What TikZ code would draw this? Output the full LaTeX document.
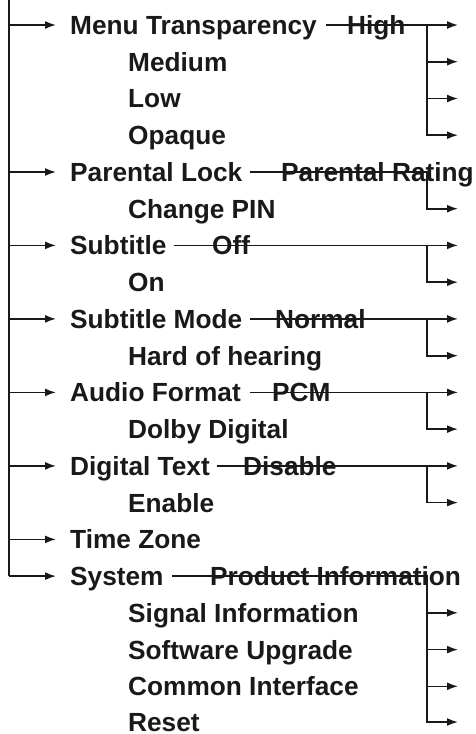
\documentclass[tikz,border=0pt]{standalone}
\usepackage{fontspec}
\setmainfont{Liberation Sans}
\usetikzlibrary{positioning,arrows.meta}

\begin{document}
\begin{tikzpicture}
                    [x=1pt, y=-1pt,
                    entry/.style={anchor=west, inner sep=0pt,
                        text height=18.8pt, text depth=0pt, text=black!90,
                        font=\bfseries\fontsize{26.25}{30}\selectfont},
                    choice/.style={entry},
                    setting/.style={entry},
                    arr/.style={-{Latex[length=11pt,width=8pt]},
                        line width=1.6pt, draw=black!90},
                    trunk/.style={line width=2.4pt, draw=black!90}]

                    \useasboundingbox (0,0) rectangle (475,734);
                    \coordinate (top) at (9,0);
                    \coordinate (bar) at (427,0);
                    \coordinate (tip) at (458,0);

                    % main entries
                    \node[entry] at (70,25)
                        (menu) {Menu Transparency};
                    \node[entry] at (70,172)
                        (lock) {Parental Lock};
                    \node[entry] at (70,245.4)
                        (sub) {Subtitle};
                    \node[entry] at (70,318.9)
                        (mode) {Subtitle Mode};
                    \node[entry] at (70,392.4)
                        (audio) {Audio Format};
                    \node[entry] at (70,465.9)
                        (dtext) {Digital Text};
                    \node[entry] at (70,539.4)
                        (zone) {Time Zone};
                    \node[entry] at (70,576.1)
                        (sys) {System};

                    % first settings
                    \node[setting] at (347,25)
                        (high) {High};
                    \node[setting] at (281,172)
                        (rating) {Parental Rating};
                    \node[setting] at (212,245.4)
                        (off) {Off};
                    \node[setting] at (275,318.9)
                        (normal) {Normal};
                    \node[setting] at (272,392.4)
                        (pcm) {PCM};
                    \node[setting] at (243,465.9)
                        (disable) {Disable};
                    \node[setting] at (210,576.1)
                        (prod) {Product Information};

                    % other choices
                    \node[choice] at (128,61.7)
                        (medium) {Medium};
                    \node[choice] at (128,98.5)
                        (low) {Low};
                    \node[choice] at (128,135.2)
                        (opaque) {Opaque};
                    \node[choice] at (128,208.7)
                        (pin) {Change PIN};
                    \node[choice] at (128,282.2)
                        (on) {On};
                    \node[choice] at (128,355.7)
                        (hard) {Hard of hearing};
                    \node[choice] at (128,429.1)
                        (dolby) {Dolby Digital};
                    \node[choice] at (128,502.6)
                        (enable) {Enable};
                    \node[choice] at (128,612.8)
                        (signal) {Signal Information};
                    \node[choice] at (128,649.6)
                        (soft) {Software Upgrade};
                    \node[choice] at (128,686.3)
                        (ci) {Common Interface};
                    \node[choice] at (128,722)
                        (reset) {Reset};

                    % trunk
                    \draw[trunk] (top) -- (top |- sys.west);
                    \foreach \n in {menu,lock,sub,mode,audio,dtext,zone,sys}
                        \draw[arr, shorten >=14pt] (top |- \n.west) -- (\n.west);

                    % branches
                    \draw[arr, shorten <=9pt] (menu.east) -- (tip |- menu.east);
                    \draw[arr] (bar |- menu.east) |- (tip |- opaque.west);
                    \draw[arr] (bar |- medium.west) -- (tip |- medium.west);
                    \draw[arr] (bar |- low.west) -- (tip |- low.west);

                    \draw[arr, shorten <=7pt] (lock.east) -- (bar |- lock.east)
                        |- (tip |- pin.west);

                    \draw[arr, shorten <=7pt] (sub.east) -- (tip |- sub.east);
                    \draw[arr] (bar |- sub.east) |- (tip |- on.west);

                    \draw[arr, shorten <=8pt] (mode.east) -- (tip |- mode.east);
                    \draw[arr] (bar |- mode.east) |- (tip |- hard.west);

                    \draw[arr, shorten <=9pt] (audio.east) -- (tip |- audio.east);
                    \draw[arr] (bar |- audio.east) |- (tip |- dolby.west);

                    \draw[arr, shorten <=7pt] (dtext.east) -- (tip |- dtext.east);
                    \draw[arr] (bar |- dtext.east) |- (tip |- enable.west);

                    \draw[arr, shorten <=8pt] (sys.east) -- (bar |- sys.east)
                        |- (tip |- reset.west);
                    \draw[arr] (bar |- signal.west) -- (tip |- signal.west);
                    \draw[arr] (bar |- soft.west) -- (tip |- soft.west);
                    \draw[arr] (bar |- ci.west) -- (tip |- ci.west);
                \end{tikzpicture}
\end{document}
